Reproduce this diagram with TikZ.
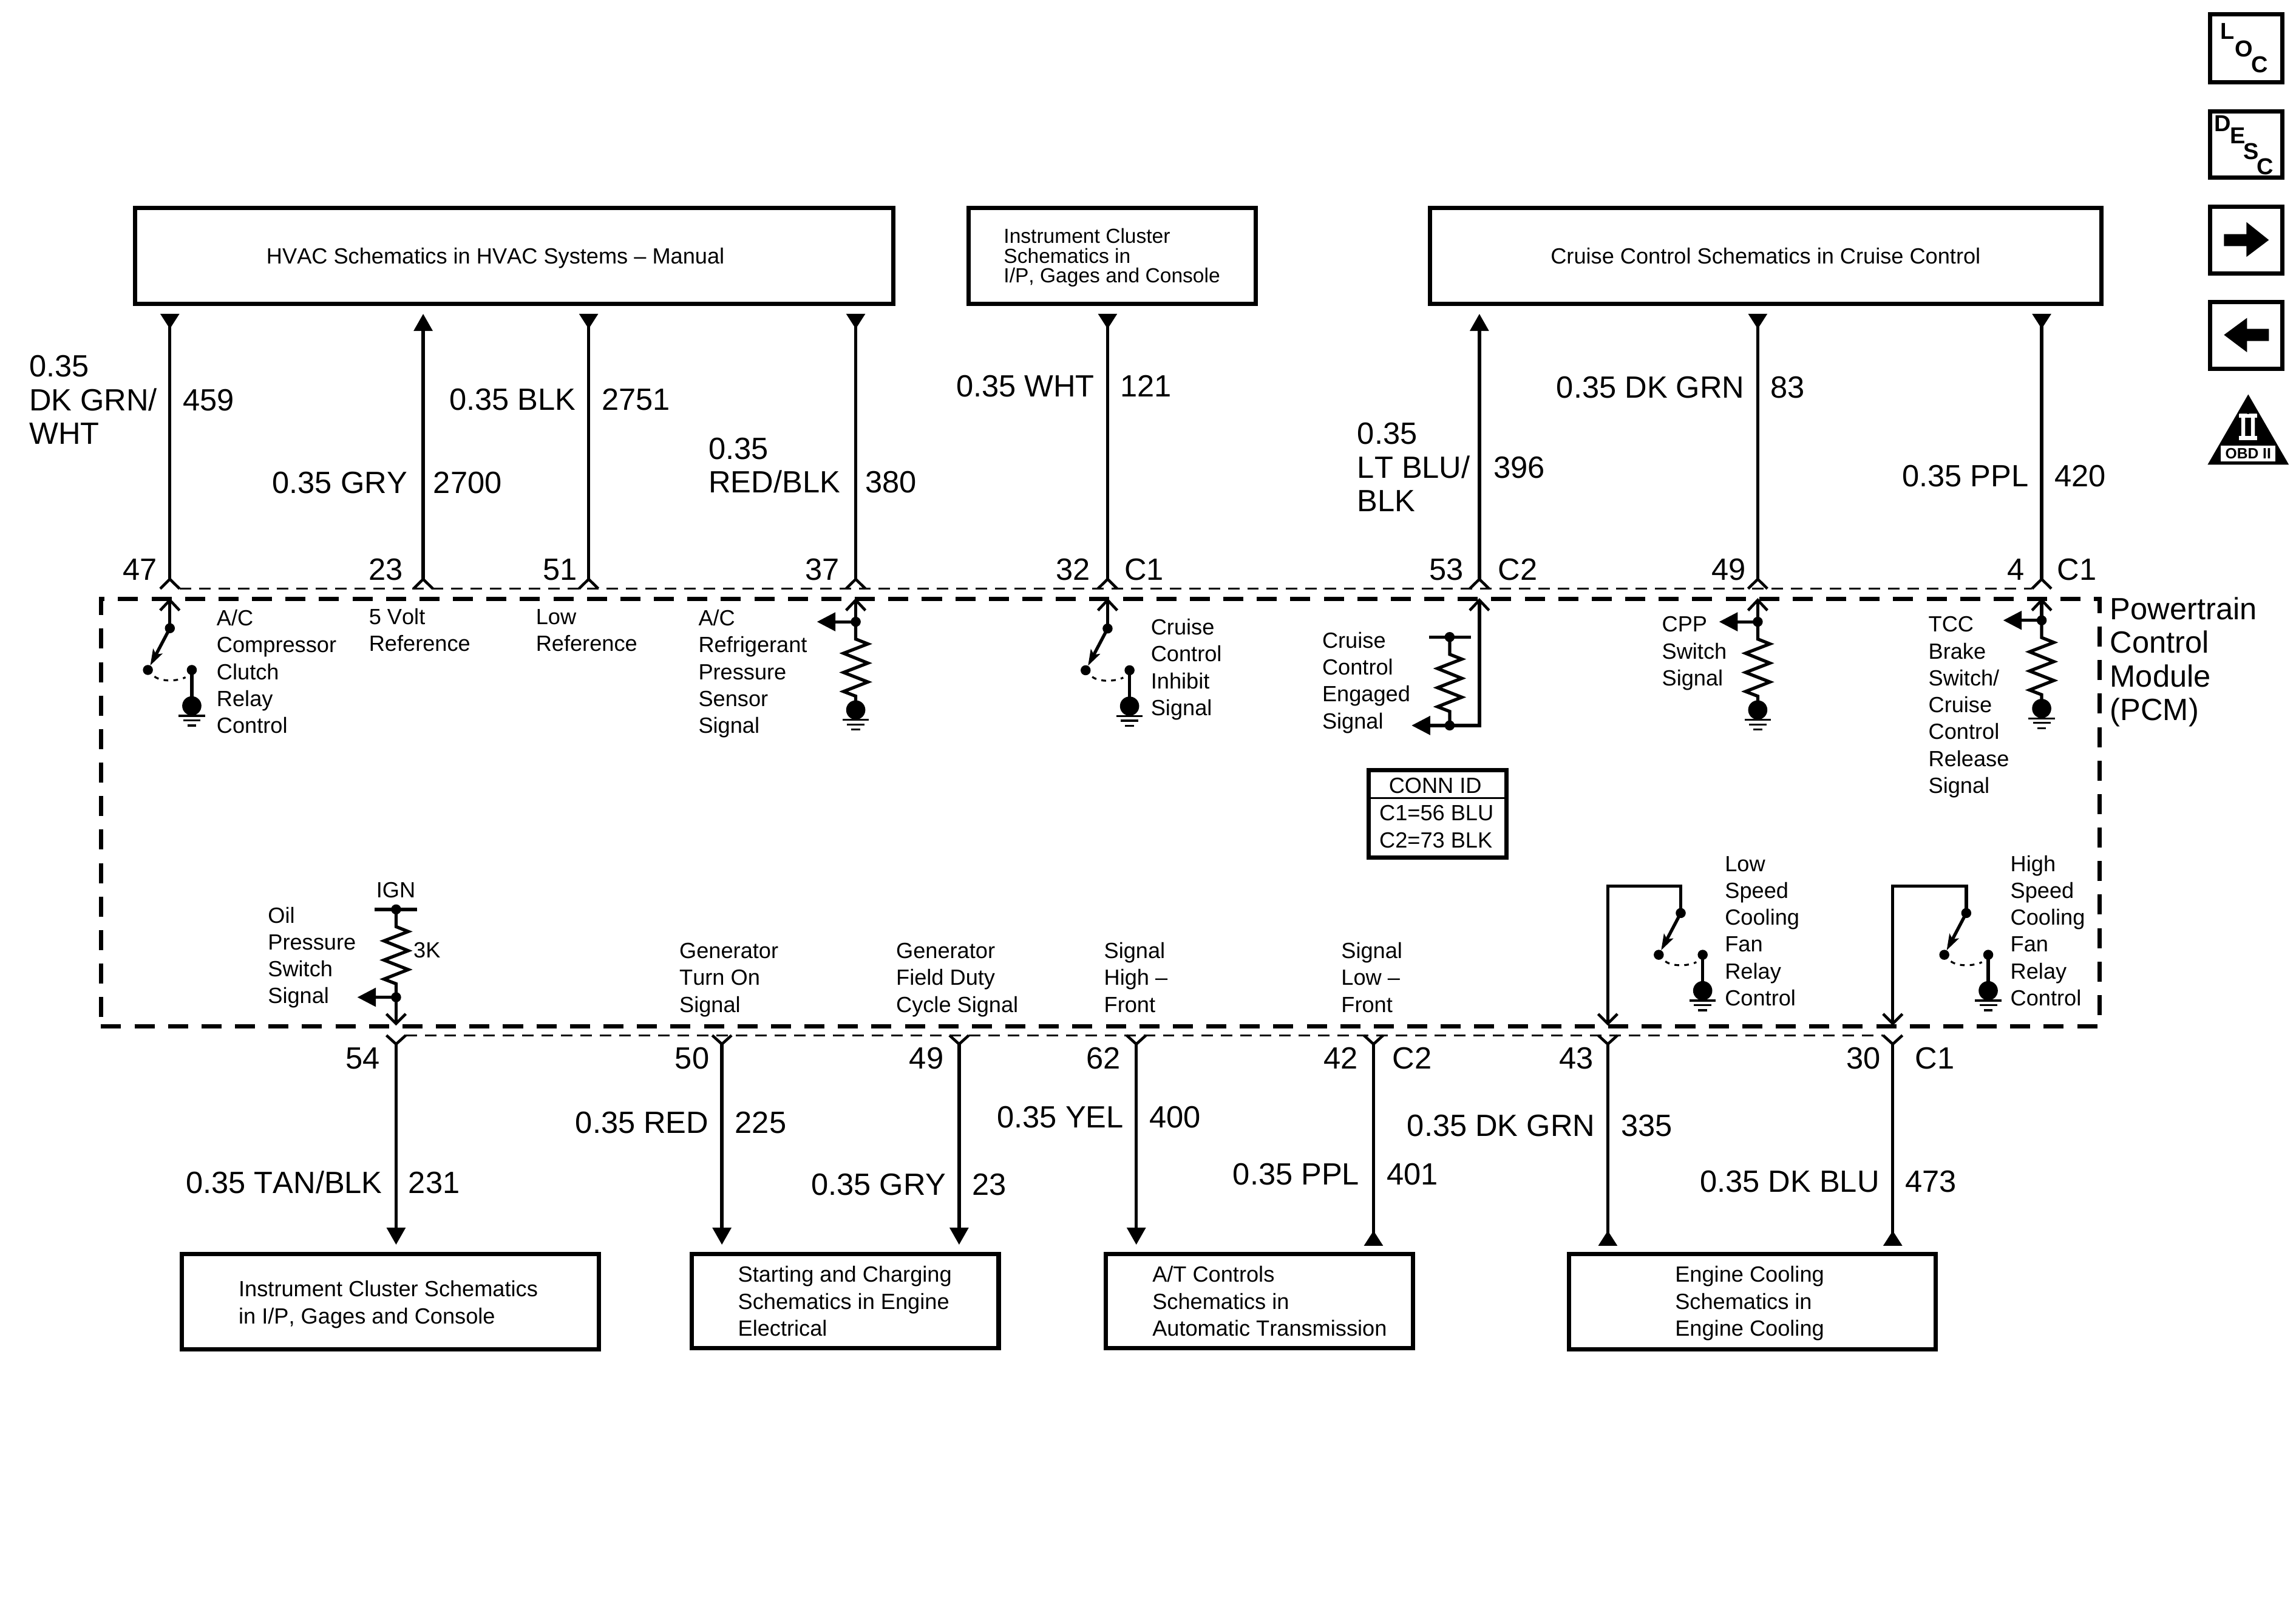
\documentclass[tikz,border=0pt]{standalone}
\usepackage{fontspec}
\setmainfont[Kerning=Off]{Liberation Sans}
\newfontfamily\serifb{Liberation Serif}
\usetikzlibrary{arrows.meta,calc,fit}
\tikzset{
  wire/.style={line width=1.5pt,line cap=butt,line join=miter},
  chv/.style={line width=1.3pt,line join=miter},
  thdash/.style={line width=1pt,dash pattern=on 5.4pt off 3.7pt},
  pcmd/.style={draw,line width=2pt,dash pattern=on 9.4pt off 6.3pt,inner sep=0pt,outer sep=0pt},
  cbox/.style={draw,line width=2pt,inner sep=0pt,outer sep=0pt},
  sdot/.style={circle,fill=black,inner sep=0pt,minimum size=4.7pt,outer sep=0pt},
  gdot/.style={circle,fill=black,inner sep=0pt,minimum size=9pt,outer sep=0pt},
  gl/.style={line width=0.95pt},
  arcd/.style={line width=0.9pt,dash pattern=on 2.2pt off 2.4pt},
  small/.style={anchor=north west,inner sep=0pt,outer sep=0pt,yshift=8pt,align=left,font=\fontsize{10.3}{12.6}\selectfont},
  mid/.style={anchor=north west,inner sep=0pt,outer sep=0pt,yshift=8pt,align=left,font=\fontsize{9.55}{9.3}\selectfont},
  large/.style={anchor=north west,inner sep=0pt,outer sep=0pt,yshift=11.7pt,align=left,font=\fontsize{14.4}{15.8}\selectfont},
  icon/.style={anchor=base west,inner sep=0pt,outer sep=0pt,font=\bfseries\fontsize{10.8}{12}\selectfont},
  tdown/.style={{Triangle[reversed,length=7.1pt,width=8.6pt]}-},
  tup/.style={-{Triangle[length=8pt,width=8.6pt]}},
  tsig/.style={-{Triangle[length=8.7pt,width=8.6pt]}},
  sarrow/.style={-{Stealth[length=7.5pt,width=4.8pt,inset=1.6pt]}},
}
\newcommand\lab[4]{\node[small] (#1) at (#2,#3) {\rule{0pt}{8pt}#4};}
\newcommand\lbl[4]{\node[large] (#1) at (#2,#3) {\rule{0pt}{12pt}#4};}
\newcommand\chev[2]{\draw[chv] ($(#1)+(-6.6,#2)$) -- (#1) -- ($(#1)+(6.6,#2)$);}
\newcommand\gnd[1]{%
  \draw[gl] ($(#1)+(-9,6.8)$) -- ($(#1)+(9,6.8)$);
  \draw[gl] ($(#1)+(-6,9.9)$) -- ($(#1)+(6,9.9)$);
  \draw[gl] ($(#1)+(-3,13.4)$) -- ($(#1)+(3,13.4)$);}
\newcommand\zig{-- ++(8.3,3.3) -- ++(-16.6,6.4) -- ++(16.6,6.7) -- ++(-16.6,6.4) -- ++(16.6,6.5) -- ++(-16.6,6.5) -- ++(8.3,3.2)}
\newcommand\swt[3]{%
  \node[sdot] (#1t) at (#2,#3) {};
  \node[sdot] (#1l) at ({#2-15},{#3+28.5}) {};
  \node[sdot] (#1r) at ({#2+15},{#3+28.5}) {};
  \node[gdot] (#1g) at ({#2+15},{#3+53}) {};
  \draw[wire,sarrow] (#1t.center) -- (#1l);
  \draw[wire] (#1r.center) -- (#1g.center);
  \draw[arcd] ($(#1l)+(4.5,4.5)$) .. controls +(5,3.8) and +(-5,2.6) .. ($(#1r)+(-4.3,5)$);
  \gnd{#1g}}
\newcommand\rgnd[3]{%
  \node[sdot] (#1t) at (#2,#3) {};
  \node[gdot] (#1g) at (#2,{#3+60.2}) {};
  \draw[wire] (#1t.center) -- ++(0,11.8) \zig -- (#1g.center);
  \gnd{#1g}}
% pin: outer connector above the module
\newcommand\toppin[2]{\coordinate (#1) at (#2,395.5); \chev{#1}{6.5}}
\newcommand\botpin[2]{\coordinate (#1) at (#2,713); \chev{#1}{-6}}
\newcommand\topin[2]{\coordinate (#1) at (#2,409.8); \chev{#1}{7}}
\newcommand\botin[2]{\coordinate (#1) at (#2,699); \chev{#1}{-6.6}}
\begin{document}
\begin{tikzpicture}[x=0.02412cm,y=-0.02412cm]
\useasboundingbox (0,0) rectangle (1568,1104.5);
\fill[white] (0,0) rectangle (1568,1104.5);

% boxes
\node[cbox,fit={(92.3,142)(610,207.6)}] (hvac) {};
\node[cbox,fit={(661.5,142)(857.5,207.6)}] (ic) {};
\node[cbox,fit={(976.5,142)(1435,207.6)}] (cc) {};
\node[cbox,fit={(124,856.5)(409,921.5)}] (ic2) {};
\node[cbox,fit={(472.5,856.5)(682,920.5)}] (sc) {};
\node[cbox,fit={(755,856.5)(965,920.5)}] (at) {};
\node[cbox,fit={(1071.5,856.5)(1322,921.5)}] (ec) {};
\node[pcmd,fit={(69,408.8)(1433.9,700.7)}] (pcm) {};

\lab{thvac}{182}{180}{HVAC Schematics in HVAC Systems -- Manual}
\node[mid] (tic) at (685.5,166) {\rule{0pt}{8pt}Instrument Cluster\\Schematics in\\I/P, Gages and Console};
\lab{tcc}{1059}{180}{Cruise Control Schematics in Cruise Control}
\lab{tic2}{163}{885.5}{Instrument Cluster Schematics\\in I/P, Gages and Console}
\lab{tsc}{504}{875.5}{Starting and Charging\\Schematics in Engine\\Electrical}
\lab{tat}{787}{875.5}{A/T Controls\\Schematics in\\Automatic Transmission}
\lab{tec}{1144}{875.5}{Engine Cooling\\Schematics in\\Engine Cooling}

% outer pins, top
\toppin{p47}{116}\toppin{p23}{289}\toppin{p51}{402}\toppin{p37}{584.4}
\toppin{p32}{756.4}\toppin{p53}{1010.3}\toppin{p49}{1200.4}\toppin{p4}{1394.3}
\draw[thdash] ($(p47)+(6.6,6.5)$) -- ($(p4)+(-6.6,6.5)$);
% wires to top boxes
\draw[wire,tdown] ($(hvac.south -| p47)+(0,6.7)$) -- (p47);
\draw[wire,tup] (p23) -- ($(hvac.south -| p23)+(0,6.7)$);
\draw[wire,tdown] ($(hvac.south -| p51)+(0,6.7)$) -- (p51);
\draw[wire,tdown] ($(hvac.south -| p37)+(0,6.7)$) -- (p37);
\draw[wire,tdown] ($(ic.south -| p32)+(0,6.7)$) -- (p32);
\draw[wire,tup] (p53) -- ($(cc.south -| p53)+(0,6.7)$);
\draw[wire,tdown] ($(cc.south -| p49)+(0,6.7)$) -- (p49);
\draw[wire,tdown] ($(cc.south -| p4)+(0,6.7)$) -- (p4);

% outer pins, bottom
\botpin{q54}{270.5}\botpin{q50}{493}\botpin{q49}{655}\botpin{q62}{776}
\botpin{q42}{938}\botpin{q43}{1098}\botpin{q30}{1292.6}
\draw[thdash] ($(q54)+(6.6,-6)$) -- ($(q30)+(-6.6,-6)$);
\draw[wire,tup] (q54) -- ($(ic2.north -| q54)+(0,-6.5)$);
\draw[wire,tup] (q50) -- ($(sc.north -| q50)+(0,-6.5)$);
\draw[wire,tup] (q49) -- ($(sc.north -| q49)+(0,-6.5)$);
\draw[wire,tup] (q62) -- ($(at.north -| q62)+(0,-6.5)$);
\draw[wire,tdown] ($(at.north -| q42)+(0,-5.8)$) -- (q42);
\draw[wire,tdown] ($(ec.north -| q43)+(0,-5.8)$) -- (q43);
\draw[wire,tdown] ($(ec.north -| q30)+(0,-5.8)$) -- (q30);

% inner circuits, top
\topin{i47}{116}\topin{i37}{584.4}\topin{i32}{756.4}\topin{i53}{1010.3}\topin{i49}{1200.4}\topin{i4}{1394.3}
\swt{s47}{116}{429}\draw[wire] (i47) -- (s47t.center);
\swt{s32}{756.4}{429.2}\draw[wire] (i32) -- (s32t.center);
\rgnd{r37}{584.4}{424.6}\draw[wire] (i37) -- (r37t.center);
\coordinate (a37) at (557.9,424.6); \draw[wire,tsig] (r37t.center) -- (a37);
\rgnd{r49}{1200.4}{424.6}\draw[wire] (i49) -- (r49t.center);
\coordinate (a49) at (1174,424.6); \draw[wire,tsig] (r49t.center) -- (a49);
\rgnd{r4}{1394.3}{423.6}\draw[wire] (i4) -- (r4t.center);
\coordinate (a4) at (1368,423.6); \draw[wire,tsig] (r4t.center) -- (a4);
% cruise control engaged
\node[sdot] (e1) at (990,435) {};
\node[sdot] (e2) at (990,495.4) {};
\coordinate (e1l) at (976,435); \coordinate (e1r) at (1004.6,435);
\coordinate (a53) at (964,495.4);
\draw[wire] (e1l) -- (e1r);
\draw[wire] (e1.center) -- ++(0,11.8) \zig -- (e2.center);
\draw[wire,line join=miter] (i53) |- (e2.center);
\draw[wire,tsig] (e2.center) -- (a53);

% conn id
\node[cbox,fit={(934.5,526)(1029,585.5)}] (conn) {};
\draw[line width=1.1pt] (conn.west |- 0,545) coordinate (cl) -- (conn.east |- cl);
\lab{c0}{948.5}{541.5}{CONN ID}
\lab{c1}{942}{560.4}{C1=56 BLU}
\lab{c2}{942}{579}{C2=73 BLK}

% inner circuits, bottom
\botin{j54}{270.5}\botin{j43}{1098}\botin{j30}{1292.6}
\node[sdot] (o1) at (270.5,621) {};
\node[sdot] (o2) at (270.5,681) {};
\coordinate (o1l) at (256,621); \coordinate (o1r) at (285,621);
\coordinate (a54) at (244,681);
\draw[wire] (o1l) -- (o1r);
\draw[wire] (o1.center) -- ++(0,11.8) \zig -- (o2.center);
\draw[wire] (o2.center) -- (j54);
\draw[wire,tsig] (o2.center) -- (a54);
\swt{s43}{1147.8}{623.5}
\swt{s30}{1342.8}{623.5}
\coordinate (b43) at (s43t |- 0,605);
\coordinate (b30) at (s30t |- 0,605);
\draw[wire] (s43t.center) -- (b43) -| (j43);
\draw[wire] (s30t.center) -- (b30) -| (j30);

% wire labels, top
\lbl{w1}{20}{257}{0.35\\DK GRN/\\WHT}
\lbl{w2}{125}{280}{459}
\lbl{w3}{186}{336.5}{0.35 GRY}
\lbl{w4}{296}{336.5}{2700}
\lbl{w5}{307}{279.5}{0.35 BLK}
\lbl{w6}{411}{279.5}{2751}
\lbl{w7}{484}{313}{0.35\\RED/BLK}
\lbl{w8}{591}{336}{380}
\lbl{w9}{653}{270.5}{0.35 WHT}
\lbl{w10}{765}{270.5}{121}
\lbl{w11}{927}{303}{0.35\\LT BLU/\\BLK}
\lbl{w12}{1020}{326}{396}
\lbl{w13}{1063}{271.5}{0.35 DK GRN}
\lbl{w14}{1209}{271.5}{83}
\lbl{w15}{1299}{332}{0.35 PPL}
\lbl{w16}{1403}{332}{420}
% pin labels, top
\lbl{n1}{84}{395.5}{47}
\lbl{n2}{252}{395.5}{23}
\lbl{n3}{371}{395.5}{51}
\lbl{n4}{550}{395.5}{37}
\lbl{n5}{721}{395.5}{32}
\lbl{n6}{768}{395.5}{C1}
\lbl{n7}{976}{395.5}{53}
\lbl{n8}{1023}{395.5}{C2}
\lbl{n9}{1169}{395.5}{49}
\lbl{n10}{1371}{395.5}{4}
\lbl{n11}{1405}{395.5}{C1}
\lbl{pcmt}{1441}{422.5}{Powertrain\\Control\\Module\\(PCM)}
% pin labels, bottom
\lbl{m1}{236}{729.3}{54}
\lbl{m2}{461}{729.3}{50}
\lbl{m3}{621}{729.3}{49}
\lbl{m4}{742}{729.3}{62}
\lbl{m5}{904}{729.3}{42}
\lbl{m6}{951}{729.3}{C2}
\lbl{m7}{1065}{729.3}{43}
\lbl{m8}{1261}{729.3}{30}
\lbl{m9}{1308}{729.3}{C1}
% wire labels, bottom
\lbl{b1}{127}{814.5}{0.35 TAN/BLK}
\lbl{b2}{279}{814.5}{231}
\lbl{b3}{393}{773.5}{0.35 RED}
\lbl{b4}{502}{773.5}{225}
\lbl{b5}{554}{815.5}{0.35 GRY}
\lbl{b6}{664}{815.5}{23}
\lbl{b7}{681}{769.5}{0.35 YEL}
\lbl{b8}{785}{769.5}{400}
\lbl{b9}{842}{808.5}{0.35 PPL}
\lbl{b10}{947}{808.5}{401}
\lbl{b11}{961}{775.5}{0.35 DK GRN}
\lbl{b12}{1107}{775.5}{335}
\lbl{b13}{1161}{813.5}{0.35 DK BLU}
\lbl{b14}{1301}{813.5}{473}
% signal labels, top row
\lab{l1}{148}{427.3}{A/C\\Compressor\\Clutch\\Relay\\Control}
\lab{l2}{252}{426.2}{5 Volt\\Reference}
\lab{l3}{366}{426.2}{Low\\Reference}
\lab{l4}{477}{427.3}{A/C\\Refrigerant\\Pressure\\Sensor\\Signal}
\lab{l5}{786}{433.5}{Cruise\\Control\\Inhibit\\Signal}
\lab{l6}{903}{442.5}{Cruise\\Control\\Engaged\\Signal}
\lab{l7}{1135}{431.5}{CPP\\Switch\\Signal}
\lab{l8}{1317}{431.5}{TCC\\Brake\\Switch/\\Cruise\\Control\\Release\\Signal}
% signal labels, bottom row
\lab{l9}{183}{630.2}{Oil\\Pressure\\Switch\\Signal}
\lab{l10}{257}{612.9}{IGN}
\lab{l11}{282.4}{654}{3K}
\lab{l12}{464}{654.5}{Generator\\Turn On\\Signal}
\lab{l13}{612}{654.5}{Generator\\Field Duty\\Cycle Signal}
\lab{l14}{754}{654.5}{Signal\\High --\\Front}
\lab{l15}{916}{654.5}{Signal\\Low --\\Front}
\lab{l16}{1178}{595}{Low\\Speed\\Cooling\\Fan\\Relay\\Control}
\lab{l17}{1373}{595}{High\\Speed\\Cooling\\Fan\\Relay\\Control}

% side icons, in pixels of the reference
\begin{scope}[x=0.01cm,y=-0.01cm]
\node[cbox,fit={(3643.5,23.5)(3762.5,135.5)}] (loc) {};
\node[icon] (locl) at (3660,65) {L};
\node[icon] (loco) at (3684,94) {O};
\node[icon] (locc) at (3711,120) {C};
\node[cbox,fit={(3643.5,183.5)(3762.5,292.5)}] (desc) {};
\node[icon] (descd) at (3650,217) {D};
\node[icon] (desce) at (3676,237) {E};
\node[icon] (descs) at (3698,263) {S};
\node[icon] (descc) at (3720,288) {C};
\node[cbox,fit={(3643.5,340.5)(3762.5,450.5)}] (fwd) {};
\fill (3666,386) -- (3703,386) -- (3703,366) -- (3740,395.6) -- (3703,423.5) -- (3703,405.6) -- (3666,405.6) -- cycle;
\node[cbox,fit={(3643.5,497.5)(3762.5,607.5)}] (bck) {};
\fill (3740,542) -- (3704,542) -- (3704,524) -- (3666,552) -- (3704,580.6) -- (3704,562) -- (3740,562) -- cycle;
\fill (3706,650) -- (3773,766) -- (3639,766) -- cycle;
\fill[white] (3691,682) rectangle (3721,689);
\fill[white] (3691,719) rectangle (3721,726);
\node[inner sep=0pt,outer sep=0pt,text=white,font=\serifb\bfseries\fontsize{19}{19}\selectfont,xscale=0.62] (roman) at (3706,704) {II};
\fill[white] (3661,734.7) rectangle (3751,761);
\node[inner sep=0pt,outer sep=0pt,font=\bfseries\fontsize{7}{7}\selectfont] (obd) at (3706,748) {OBD II};
\end{scope}
\end{tikzpicture}
\end{document}
